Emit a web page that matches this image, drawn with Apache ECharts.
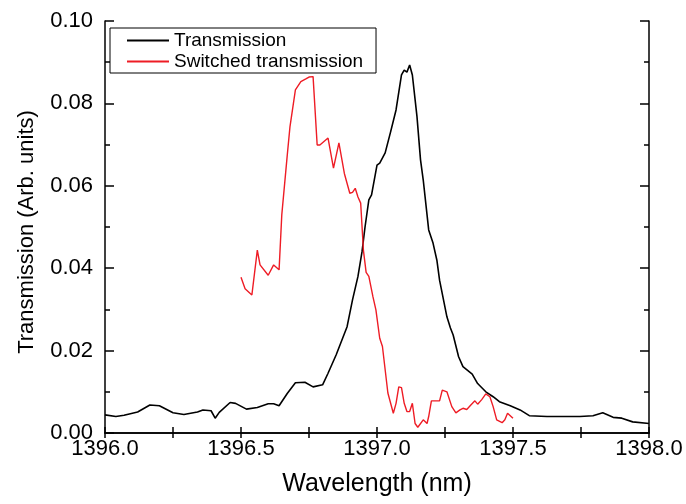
<!DOCTYPE html>
<html>
<head>
<meta charset="utf-8">
<script src="https://cdn.jsdelivr.net/npm/echarts@6/dist/echarts.min.js"></script>
<style>
  html, body { margin: 0; padding: 0; background: #fff; }
  #chart { width: 686px; height: 504px; }
</style>
</head>
<body>
<div id="chart"></div>
<script>
// Transmission spectrum (black)
var transWavelength = [
  1396.00, 1396.04, 1396.07, 1396.12, 1396.165, 1396.20, 1396.25, 1396.29, 1396.34, 1396.36,
  1396.39, 1396.405, 1396.42, 1396.46, 1396.48, 1396.52, 1396.56, 1396.60, 1396.62, 1396.64,
  1396.67, 1396.70, 1396.735, 1396.765, 1396.80, 1396.82, 1396.85, 1396.89, 1396.91, 1396.93,
  1396.945, 1396.956, 1396.97, 1396.98, 1397.00, 1397.01, 1397.03, 1397.05, 1397.07, 1397.09,
  1397.10, 1397.11, 1397.12, 1397.13, 1397.147, 1397.16, 1397.17, 1397.19, 1397.206, 1397.22,
  1397.23, 1397.257, 1397.27, 1397.28, 1397.30, 1397.316, 1397.35, 1397.37, 1397.40, 1397.427,
  1397.45, 1397.49, 1397.526, 1397.56, 1397.625, 1397.68, 1397.746, 1397.794, 1397.83, 1397.868,
  1397.90, 1397.94, 1398.00
];
var transValue = [
  0.0044, 0.0040, 0.0043, 0.0051, 0.0068, 0.0066, 0.0049, 0.0045, 0.0051, 0.0056,
  0.0054, 0.0036, 0.0050, 0.0074, 0.0072, 0.0058, 0.0062, 0.0071, 0.0071, 0.0066,
  0.0096, 0.0122, 0.0123, 0.0112, 0.0117, 0.0145, 0.0190, 0.0258, 0.0323, 0.0380,
  0.0440, 0.0500, 0.0566, 0.0578, 0.0650, 0.0655, 0.0680, 0.0731, 0.0784, 0.0869,
  0.0881, 0.0876, 0.0893, 0.0869, 0.0768, 0.0663, 0.0614, 0.0493, 0.0461, 0.0420,
  0.0371, 0.0282, 0.0255, 0.0238, 0.0185, 0.0161, 0.0143, 0.0120, 0.0100, 0.0088,
  0.0076, 0.0066, 0.0056, 0.0042, 0.0040, 0.0040, 0.0040, 0.0042, 0.0049, 0.0038,
  0.0036, 0.0027, 0.0023
];

// Switched transmission spectrum (red)
var switchWavelength = [
  1396.500, 1396.515, 1396.540, 1396.560, 1396.570, 1396.600, 1396.620, 1396.640, 1396.650, 1396.670,
  1396.680, 1396.700, 1396.720, 1396.740, 1396.750, 1396.765, 1396.780, 1396.790, 1396.820, 1396.840,
  1396.860, 1396.880, 1396.900, 1396.910, 1396.920, 1396.930, 1396.940, 1396.950, 1396.960, 1396.970,
  1396.985, 1396.996, 1397.010, 1397.020, 1397.040, 1397.060, 1397.070, 1397.080, 1397.090, 1397.100,
  1397.110, 1397.120, 1397.130, 1397.140, 1397.150, 1397.170, 1397.184, 1397.190, 1397.200, 1397.220,
  1397.230, 1397.240, 1397.257, 1397.275, 1397.290, 1397.305, 1397.316, 1397.330, 1397.345, 1397.360,
  1397.370, 1397.385, 1397.400, 1397.415, 1397.427, 1397.440, 1397.460, 1397.470, 1397.480, 1397.500
];
var switchValue = [
  0.0378, 0.0350, 0.0335, 0.0444, 0.0408, 0.0383, 0.0408, 0.0396, 0.0530, 0.0674,
  0.0743, 0.0833, 0.0853, 0.0860, 0.0864, 0.0865, 0.0699, 0.0699, 0.0716, 0.0643,
  0.0704, 0.0630, 0.0582, 0.0584, 0.0594, 0.0573, 0.0558, 0.0444, 0.0390, 0.0380,
  0.0331, 0.0299, 0.0230, 0.0210, 0.0097, 0.0048, 0.0072, 0.0112, 0.0110, 0.0072,
  0.0052, 0.0052, 0.0072, 0.0023, 0.0014, 0.0032, 0.0023, 0.0040, 0.0078, 0.0078,
  0.0078, 0.0104, 0.0100, 0.0064, 0.0049, 0.0056, 0.0060, 0.0057, 0.0068, 0.0078,
  0.0070, 0.0081, 0.0095, 0.0088, 0.0064, 0.0032, 0.0025, 0.0032, 0.0048, 0.0036
];

var seriesNames = ['Transmission', 'Switched transmission'];
var xTitle = 'Wavelength (nm)';
var yTitle = 'Transmission (Arb. units)';

function zip(xs, ys) {
  return xs.map(function (x, i) { return [x, ys[i]]; });
}

var FONT = "'Liberation Sans', Arial, sans-serif";
var AX = { lineStyle: { color: '#000', width: 1.5 } };

var chart = echarts.init(document.getElementById('chart'), null, { renderer: 'canvas' });
chart.setOption({
  animation: false,
  backgroundColor: '#fff',
  grid: { left: 105, right: 37, top: 21, bottom: 71, containLabel: false },
  legend: {
    data: seriesNames,
    orient: 'vertical',
    left: 110,
    top: 28,
    padding: [3, 13, 2, 17],
    itemGap: 2,
    itemWidth: 42,
    itemHeight: 2,
    icon: 'rect',
    borderColor: '#000',
    borderWidth: 1,
    backgroundColor: '#fff',
    textStyle: { fontFamily: FONT, fontSize: 19, color: '#000', lineHeight: 19 }
  },
  xAxis: [{
    type: 'value', min: 1396, max: 1398, interval: 0.5, position: 'bottom',
    name: xTitle, nameLocation: 'middle', nameGap: 39,
    nameTextStyle: { fontFamily: FONT, fontSize: 25, color: '#000' },
    axisLine: AX,
    axisTick: { inside: true, length: 6, lineStyle: { color: '#000', width: 1.5 } },
    minorTick: { show: true, splitNumber: 2, length: 6, lineStyle: { color: '#000', width: 1.5 } },
    axisLabel: { fontFamily: FONT, fontSize: 22, color: '#000', margin: 5,
      formatter: function (v) { return v.toFixed(1); } },
    splitLine: { show: false }
  }, {
    type: 'value', min: 1396, max: 1398, interval: 0.5, position: 'top',
    axisLine: AX,
    axisTick: { inside: true, length: 5, lineStyle: { color: '#000', width: 1.5 } },
    minorTick: { show: true, splitNumber: 2, length: 5, lineStyle: { color: '#000', width: 1.5 } },
    axisLabel: { show: false },
    splitLine: { show: false }
  }],
  yAxis: [{
    type: 'value', min: 0, max: 0.1, interval: 0.02, position: 'left',
    name: yTitle, nameLocation: 'middle', nameGap: 67, nameRotate: 90,
    nameTextStyle: { fontFamily: FONT, fontSize: 22, color: '#000', padding: [0, 10, 0, 0] },
    axisLine: AX,
    axisTick: { inside: true, length: 9, lineStyle: { color: '#000', width: 1.5 } },
    minorTick: { show: true, splitNumber: 2, length: 5, lineStyle: { color: '#000', width: 1.5 } },
    axisLabel: { fontFamily: FONT, fontSize: 22, color: '#000', margin: 12,
      formatter: function (v) { return v.toFixed(2); } },
    splitLine: { show: false }
  }, {
    type: 'value', min: 0, max: 0.1, interval: 0.02, position: 'right',
    axisLine: AX,
    axisTick: { inside: true, length: 9, lineStyle: { color: '#000', width: 1.5 } },
    minorTick: { show: true, splitNumber: 2, length: 5, lineStyle: { color: '#000', width: 1.5 } },
    axisLabel: { show: false },
    splitLine: { show: false }
  }],
  series: [{
    name: seriesNames[0],
    type: 'line',
    data: zip(transWavelength, transValue),
    symbol: 'none',
    lineStyle: { color: '#000', width: 1.6 },
    itemStyle: { color: '#000' },
    z: 3
  }, {
    name: seriesNames[1],
    type: 'line',
    data: zip(switchWavelength, switchValue),
    symbol: 'none',
    lineStyle: { color: '#ee1c25', width: 1.4 },
    itemStyle: { color: '#ee1c25' },
    z: 4
  }]
});
</script>
</body>
</html>
